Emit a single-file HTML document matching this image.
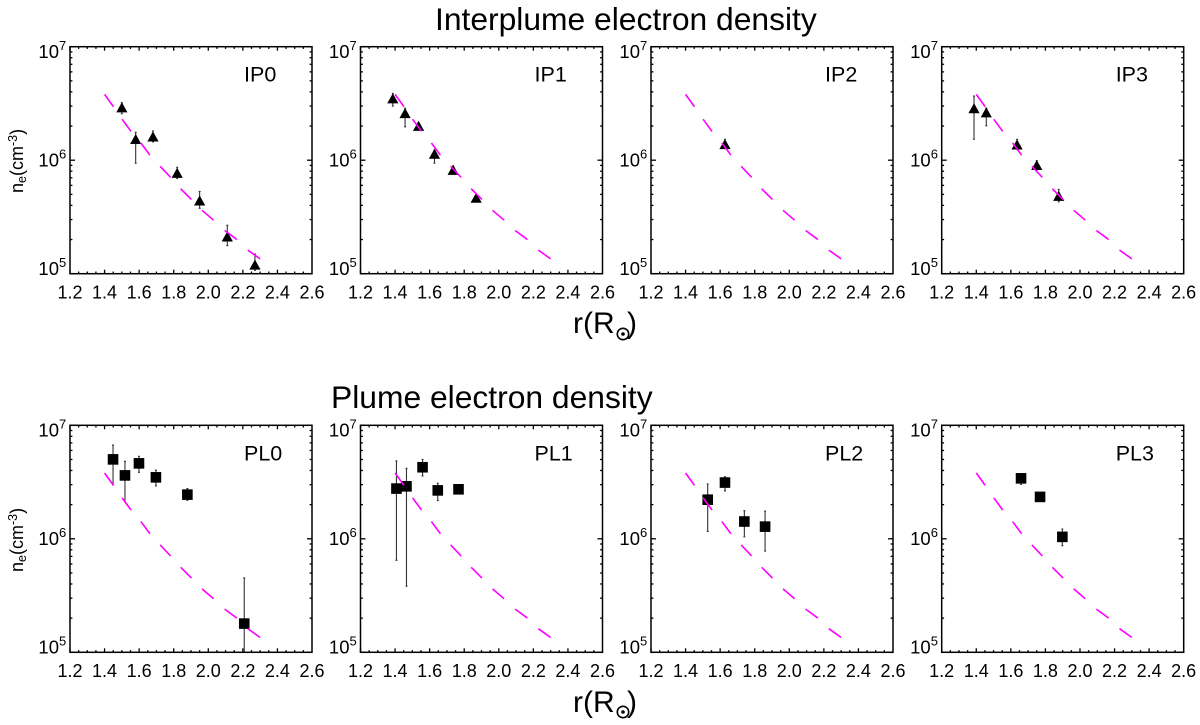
<!DOCTYPE html>
<html lang="en">
<head>
<meta charset="utf-8">
<title>Electron density panels</title>
<style>
html,body{margin:0;padding:0;background:#fff;}
svg{display:block;}
text{font-family:"Liberation Sans",Arial,sans-serif;fill:#000;}
</style>
</head>
<body>
<svg id="figure" xmlns="http://www.w3.org/2000/svg" width="1200" height="725" viewBox="0 0 1200 725">
  <rect x="0" y="0" width="1200" height="725" fill="#fff"/>
  <text x="435" y="30" font-size="31.8">Interplume electron density</text>
  <text x="331" y="408" font-size="31.8">Plume electron density</text>
  <g>
    <text x="573" y="333" font-size="30">r(R</text>
    <circle cx="623" cy="334" r="5.7" fill="none" stroke="#000" stroke-width="1.6"/>
    <circle cx="623" cy="334" r="1.8" fill="#000"/>
    <text x="627" y="333" font-size="30">)</text>
  </g>
  <g>
    <text x="573" y="712" font-size="30">r(R</text>
    <circle cx="623" cy="712" r="5.7" fill="none" stroke="#000" stroke-width="1.6"/>
    <circle cx="623" cy="712" r="1.8" fill="#000"/>
    <text x="627" y="712" font-size="30">)</text>
  </g>
  <text transform="translate(23,193) rotate(-90)" font-size="18">n<tspan font-size="12.5" dy="3">e</tspan><tspan dy="-3">(cm</tspan><tspan font-size="12.5" dy="-6">-3</tspan><tspan dy="6">)</tspan></text>
  <text transform="translate(23,572) rotate(-90)" font-size="18">n<tspan font-size="12.5" dy="3">e</tspan><tspan dy="-3">(cm</tspan><tspan font-size="12.5" dy="-6">-3</tspan><tspan dy="6">)</tspan></text>
</svg>
<script>
// Axis ticks
const xTickLabels = [1.2, 1.4, 1.6, 1.8, 2.0, 2.2, 2.4, 2.6];
const yTickExponents = [5, 6, 7];

// Reference model curve
const curveR = [1.40, 1.45, 1.50, 1.55, 1.61, 1.66, 1.72, 1.78, 1.84, 1.90, 1.96, 2.03, 2.09, 2.16, 2.23, 2.30];
const curveN = [3.80e6, 2.98e6, 2.31e6, 1.82e6, 1.42e6, 1.12e6, 8.89e5, 7.11e5, 5.61e5, 4.55e5, 3.66e5, 2.97e5, 2.43e5, 2.03e5, 1.61e5, 1.35e5];

// Interplume measurements
const ip0R = [1.50, 1.58, 1.68, 1.82, 1.95, 2.11, 2.27];
const ip0N = [2.87e6, 1.51e6, 1.59e6, 7.6e5, 4.34e5, 2.09e5, 1.18e5];
const ip0Hi = [3.21e6, 1.76e6, 1.81e6, 8.65e5, 5.31e5, 2.67e5, 1.49e5];
const ip0Lo = [2.57e6, 9.4e5, 1.45e6, 6.9e5, 3.77e5, 1.77e5, 1.07e5];

const ip1R = [1.387, 1.458, 1.536, 1.628, 1.736, 1.869];
const ip1N = [3.44e6, 2.55e6, 1.97e6, 1.12e6, 8.07e5, 4.58e5];
const ip1Hi = [3.88e6, 2.87e6, 2.14e6, 1.23e6, 8.9e5, 4.93e5];
const ip1Lo = [3.0e6, 1.97e6, 1.85e6, 9.4e5, 7.55e5, 4.3e5];

const ip2R = [1.628];
const ip2N = [1.36e6];
const ip2Hi = [1.53e6];
const ip2Lo = [1.27e6];

const ip3R = [1.387, 1.458, 1.636, 1.75, 1.877];
const ip3N = [2.82e6, 2.59e6, 1.35e6, 8.9e5, 4.76e5];
const ip3Hi = [3.67e6, 2.88e6, 1.53e6, 9.9e5, 5.53e5];
const ip3Lo = [1.53e6, 2.01e6, 1.24e6, 8.2e5, 4.3e5];

// Plume measurements
const pl0R = [1.449, 1.518, 1.599, 1.697, 1.879, 2.208];
const pl0N = [5.01e6, 3.62e6, 4.62e6, 3.48e6, 2.45e6, 1.79e5];
const pl0Hi = [6.7e6, 4.82e6, 5.33e6, 4.02e6, 2.77e6, 4.52e5];
const pl0Lo = [2.98e6, 2.12e6, 3.85e6, 2.92e6, 2.18e6, 1.0e5];

const pl1R = [1.408, 1.466, 1.559, 1.647, 1.767];
const pl1N = [2.77e6, 2.9e6, 4.27e6, 2.67e6, 2.73e6];
const pl1Hi = [4.85e6, 4.18e6, 5.01e6, 3.09e6, 2.9e6];
const pl1Lo = [6.46e5, 3.82e5, 3.58e6, 2.17e6, 2.6e6];

const pl2R = [1.528, 1.628, 1.74, 1.86];
const pl2N = [2.21e6, 3.13e6, 1.42e6, 1.28e6];
const pl2Hi = [3.04e6, 3.53e6, 1.77e6, 1.75e6];
const pl2Lo = [1.16e6, 2.64e6, 1.04e6, 7.8e5];

const pl3R = [1.659, 1.769, 1.898];
const pl3N = [3.41e6, 2.34e6, 1.04e6];
const pl3Hi = [3.65e6, 2.5e6, 1.22e6];
const pl3Lo = [3.02e6, 2.2e6, 8.7e5];

// Panel labels and the series each one shows
const panelNames = ['IP0', 'IP1', 'IP2', 'IP3', 'PL0', 'PL1', 'PL2', 'PL3'];
const panelR = [ip0R, ip1R, ip2R, ip3R, pl0R, pl1R, pl2R, pl3R];
const panelN = [ip0N, ip1N, ip2N, ip3N, pl0N, pl1N, pl2N, pl3N];
const panelHi = [ip0Hi, ip1Hi, ip2Hi, ip3Hi, pl0Hi, pl1Hi, pl2Hi, pl3Hi];
const panelLo = [ip0Lo, ip1Lo, ip2Lo, ip3Lo, pl0Lo, pl1Lo, pl2Lo, pl3Lo];

// Layout (not data)
const PLOT_W = 242;
const PLOT_H = 227;
const COLUMN_LEFT = [70, 360.5, 651, 941.7];
const ROW_TOP = [46.7, 425.3];
const X_MIN = 1.2;
const X_MAX = 2.6;
const LOG_MIN = 5;
const LOG_MAX = 7;
const SVG_NS = 'http://www.w3.org/2000/svg';
const figure = document.getElementById('figure');

function make(tag, attrs, parent, text) {
  const el = document.createElementNS(SVG_NS, tag);
  for (const key in attrs) {
    el.setAttribute(key, attrs[key]);
  }
  if (text !== undefined) {
    el.textContent = text;
  }
  parent.appendChild(el);
  return el;
}

function drawTick(parent, x1, y1, x2, y2) {
  const tick = make('line', { x1: x1, y1: y1, x2: x2, y2: y2, stroke: '#000', 'stroke-width': 1.3 }, parent);
  
  
}

function drawPanel(index) {
  const name = panelNames[index];
  const slug = name.toLowerCase();
  const left = COLUMN_LEFT[index % 4];
  const top = ROW_TOP[Math.floor(index / 4)];
  const right = left + PLOT_W;
  const bottom = top + PLOT_H;
  const isPlume = index >= 4;

  const xScale = function (r) {
    return left + (r - X_MIN) / (X_MAX - X_MIN) * PLOT_W;
  };
  const yScale = function (n) {
    return top + (LOG_MAX - Math.log10(n)) / (LOG_MAX - LOG_MIN) * PLOT_H;
  };

  const panel = make('g', {}, figure);
  
  

  // X ticks every 0.05, majors on the labelled values
  const ticks = make('g', {}, panel);
  
  
  for (let i = 0; i < xTickLabels.length - 1; i++) {
    const step = (xTickLabels[i + 1] - xTickLabels[i]) / 4;
    for (let j = 0; j < 4; j++) {
      const x = xScale(xTickLabels[i] + j * step);
      const len = j === 0 ? 4 : 2.2;
      drawTick(ticks, x, bottom, x, bottom - len);
      drawTick(ticks, x, top, x, top + len);
    }
  }

  // Y ticks: decades plus 2..9 minors
  for (let i = 0; i < yTickExponents.length; i++) {
    const decade = Math.pow(10, yTickExponents[i]);
    const y = yScale(decade);
    drawTick(ticks, left, y, left + 5, y);
    drawTick(ticks, right, y, right - 5, y);
    if (i < yTickExponents.length - 1) {
      for (let m = 2; m <= 9; m++) {
        const ym = yScale(decade * m);
        drawTick(ticks, left, ym, left + 2.4, ym);
        drawTick(ticks, right, ym, right - 2.4, ym);
      }
    }
  }

  // X tick labels
  xTickLabels.forEach(function (value) {
    const label = make('text', { x: xScale(value), y: bottom + 24.6, 'font-size': 18, 'text-anchor': 'middle' }, panel, value.toFixed(1));
    
    
  });

  // Y tick labels
  yTickExponents.forEach(function (exp) {
    const y = yScale(Math.pow(10, exp));
    const baseline = y + 1.3 + 5 * (exp - 5);
    const label = make('text', { x: left - 11, y: baseline, 'font-size': 18.5, 'text-anchor': 'end' }, panel, '10');
    
    
    const sup = make('text', { x: left - 11, y: baseline - 8, 'font-size': 13 }, panel, String(exp));
    
    
  });

  // Error bars
  const rs = panelR[index];
  const ns = panelN[index];
  const his = panelHi[index];
  const los = panelLo[index];
  rs.forEach(function (r, k) {
    const x = xScale(r);
    const bar = make('path', {
      d: 'M' + (x - 1) + ' ' + yScale(his[k]) + 'H' + (x + 1) +
         'M' + x + ' ' + yScale(his[k]) + 'V' + yScale(los[k]) +
         'M' + (x - 1) + ' ' + yScale(los[k]) + 'H' + (x + 1),
      fill: 'none', stroke: '#333', 'stroke-width': 1.1
    }, panel);
    
    
  });

  // Markers
  rs.forEach(function (r, k) {
    const x = xScale(r);
    const y = yScale(ns[k]);
    let marker;
    if (isPlume) {
      marker = make('rect', { x: x - 5.3, y: y - 5.3, width: 10.6, height: 10.6, fill: '#000' }, panel);
    } else {
      marker = make('polygon', { points: x + ',' + (y - 6) + ' ' + (x - 5.6) + ',' + (y + 4.1) + ' ' + (x + 5.6) + ',' + (y + 4.1), fill: '#000' }, panel);
    }
    
    
  });

  // Dashed model curve: eight equal dashes with seven gaps, ending on a dash
  const curve = make('polyline', {
    points: curveR.map(function (r, k) { return xScale(r) + ',' + yScale(curveN[k]); }).join(' '),
    fill: 'none', stroke: '#ff00ff', 'stroke-width': 1.6, pathLength: 15, 'stroke-dasharray': '1 1'
  }, panel);
  
  

  // Frame
  const frame = make('rect', { x: left, y: top, width: PLOT_W, height: PLOT_H, fill: 'none', stroke: '#000', 'stroke-width': 1.5 }, panel);
  
  

  // Panel label
  const tag = make('text', { x: left + 174, y: top + 35, 'font-size': 21.5 }, panel, name);
  
  
}

panelNames.forEach(function (_, index) {
  drawPanel(index);
});
</script>
</body>
</html>
